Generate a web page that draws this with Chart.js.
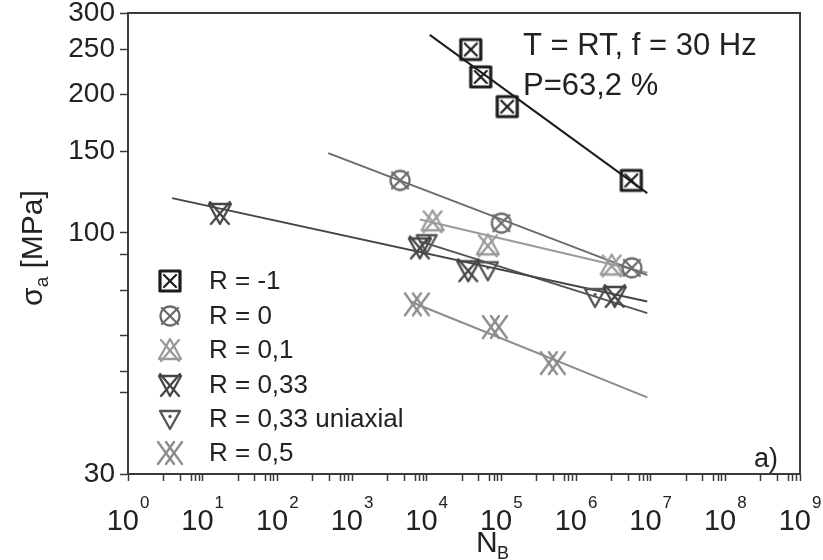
<!DOCTYPE html>
<html>
<head>
<meta charset="utf-8">
<script src="https://cdn.jsdelivr.net/npm/chart.js@4"></script>
<style>
  html, body { margin: 0; padding: 0; background: #fff; }
  #wrap { width: 823px; height: 560px; }
</style>
</head>
<body>
<div id="wrap"><canvas id="chart" width="823" height="560"></canvas></div>
<script>
const ctx = document.getElementById('chart').getContext('2d');

// measured points, N_B (cycles) and sigma_a (MPa)
const rm1N = [3.9e4, 5.3e4, 1.2e5, 5.5e6];
const rm1S = [250, 218, 188, 130];
const rm1FitN = [1.1e4, 9e6];
const rm1FitS = [269, 122];

const r0N = [4.4e3, 1.0e5, 5.6e6];
const r0S = [130, 105, 84];
const r0FitN = [480, 9e6];
const r0FitS = [149, 81];

const r01N = [1.2e4, 6.6e4, 3.0e6];
const r01S = [106, 94, 85];
const r01FitN = [8.1e3, 9e6];
const r01FitS = [107, 82];

const r033N = [17, 8.1e3, 3.6e4, 3.3e6];
const r033S = [110.5, 93, 83, 73];
const r033FitN = [3.9, 9e6];
const r033FitS = [119, 71];

const uniN = [1.0e4, 6.6e4, 1.8e6];
const uniS = [95, 83, 72.6];
const uniFitN = [8e3, 9e6];
const uniFitS = [96, 67];

const r05N = [7.4e3, 8.2e4, 4.9e5];
const r05S = [70, 62.5, 52.2];
const r05FitN = [6e3, 9e6];
const r05FitS = [71, 44];

const legendLabels = ['R = -1', 'R = 0', 'R = 0,1', 'R = 0,33', 'R = 0,33 uniaxial', 'R = 0,5'];
const xMajor = [1, 10, 100, 1e3, 1e4, 1e5, 1e6, 1e7, 1e8, 1e9];
const yLabeled = [30, 100, 150, 200, 250, 300];
const yMinor = [45, 50, 60, 75, 90];

const FONT = '"Liberation Sans", Arial, sans-serif';
const TXT = '#222';

const colors = ['#1c1c1c', '#6c6c6c', '#9a9a9a', '#454545', '#545454', '#8c8c8c'];
const kinds = ['sqx', 'cirx', 'trix', 'dtrix', 'dtridot', 'xx'];

function makeMarker(kind, color) {
  const c = document.createElement('canvas');
  c.width = 28; c.height = 28;
  const g = c.getContext('2d');
  g.strokeStyle = color;
  g.fillStyle = color;
  g.lineWidth = 2.3;
  g.lineCap = 'round';
  g.lineJoin = 'round';
  const line = (a, b, cc, d) => { g.beginPath(); g.moveTo(a, b); g.lineTo(cc, d); g.stroke(); };
  if (kind === 'sqx') {
    g.lineWidth = 3.2;
    g.strokeRect(4, 4, 20, 20);
    g.lineWidth = 2.2;
    line(8, 8, 20, 20); line(20, 8, 8, 20);
  } else if (kind === 'cirx') {
    g.beginPath(); g.arc(14, 14, 9.5, 0, Math.PI * 2); g.stroke();
    line(6, 6, 22, 22); line(22, 6, 6, 22);
  } else if (kind === 'trix') {
    g.beginPath(); g.moveTo(14, 3); g.lineTo(3, 23); g.lineTo(25, 23); g.closePath(); g.stroke();
    line(5, 4, 23, 25); line(23, 4, 5, 25);
  } else if (kind === 'dtrix') {
    g.beginPath(); g.moveTo(3, 5); g.lineTo(25, 5); g.lineTo(14, 25); g.closePath(); g.stroke();
    line(4, 3, 23, 25); line(24, 3, 5, 25);
  } else if (kind === 'dtridot') {
    g.beginPath(); g.moveTo(4, 6); g.lineTo(24, 6); g.lineTo(14, 24); g.closePath(); g.stroke();
    g.beginPath(); g.arc(14, 11.5, 1.7, 0, Math.PI * 2); g.fill();
  } else if (kind === 'xx') {
    line(2, 3, 18, 25); line(10, 3, 26, 25);
    line(18, 3, 2, 25); line(26, 3, 10, 25);
  }
  return c;
}

const markers = kinds.map((k, i) => makeMarker(k, colors[i]));

const pts = (xs, ys) => xs.map((x, i) => ({ x: x, y: ys[i] }));

const series = [
  [rm1N, rm1S, rm1FitN, rm1FitS],
  [r0N, r0S, r0FitN, r0FitS],
  [r01N, r01S, r01FitN, r01FitS],
  [r033N, r033S, r033FitN, r033FitS],
  [uniN, uniS, uniFitN, uniFitS],
  [r05N, r05S, r05FitN, r05FitS]
];

const datasets = [];
series.forEach((s, i) => {
  datasets.push({
    label: legendLabels[i] + ' fit',
    data: pts(s[2], s[3]),
    showLine: true,
    borderColor: colors[i],
    borderWidth: 2,
    pointRadius: 0,
    order: 2
  });
});
series.forEach((s, i) => {
  datasets.push({
    label: legendLabels[i],
    data: pts(s[0], s[1]),
    showLine: false,
    pointStyle: markers[i],
    pointRadius: 10,
    order: 1
  });
});

// legend, decade labels, axis titles and notes
const extras = {
  id: 'extras',
  afterDraw(chart) {
    const g = chart.ctx;
    g.save();
    g.fillStyle = TXT;
    g.textBaseline = 'middle';
    g.textAlign = 'left';

    // legend block
    g.font = '26px ' + FONT;
    const ly = [281, 316, 350, 385, 419, 453];
    legendLabels.forEach((t, i) => {
      g.drawImage(markers[i], 170 - 14, ly[i] - 14);
      g.fillText(t, 209, ly[i] + 1);
    });

    // decade labels 10^n under the x axis
    const xs = chart.scales.x;
    g.textBaseline = 'alphabetic';
    xMajor.forEach(v => {
      const e = String(Math.round(Math.log10(v)));
      const px = xs.getPixelForValue(v);
      g.font = '29px ' + FONT;
      const wb = g.measureText('10').width;
      g.font = '17px ' + FONT;
      const we = g.measureText(e).width;
      const left = px - (wb + 1 + we) / 2;
      g.font = '29px ' + FONT;
      g.fillText('10', left, 530);
      g.font = '17px ' + FONT;
      g.fillText(e, left + wb + 1, 508);
    });

    // test conditions
    g.textBaseline = 'middle';
    g.font = '31px ' + FONT;
    g.fillText('T = RT, f = 30 Hz', 523, 46);
    g.fillText('P=63,2 %', 523, 86);
    g.font = '27px ' + FONT;
    g.fillText('a)', 754, 460);

    // x title N_B
    g.textBaseline = 'alphabetic';
    g.font = '30px ' + FONT;
    g.fillText('N', 476, 552);
    g.font = '18px ' + FONT;
    g.fillText('B', 497, 559);

    // y title sigma_a [MPa]
    g.translate(42, 248);
    g.rotate(-Math.PI / 2);
    g.font = '30px ' + FONT;
    const w1 = g.measureText('σ').width;
    g.font = '19px ' + FONT;
    const w2 = g.measureText('a').width;
    g.font = '30px ' + FONT;
    const w3 = g.measureText(' [MPa]').width;
    let x0 = -(w1 + w2 + w3) / 2;
    g.fillText('σ', x0, 0);
    g.font = '19px ' + FONT;
    g.fillText('a', x0 + w1, 6);
    g.font = '30px ' + FONT;
    g.fillText(' [MPa]', x0 + w1 + w2, 0);
    g.restore();
  }
};

const frame = { color: '#3a3a3a', width: 2 };

const chart = new Chart(ctx, {
  type: 'scatter',
  data: { datasets: datasets },
  plugins: [extras],
  options: {
    responsive: false,
    animation: false,
    layout: { padding: { left: 0, top: 13, right: 23, bottom: 0 } },
    plugins: { legend: { display: false }, tooltip: { enabled: false } },
    scales: {
      x: {
        type: 'logarithmic',
        position: 'bottom',
        min: 1,
        max: 1e9,
        afterBuildTicks(scale) {
          const t = [];
          xMajor.forEach((v, i) => {
            t.push({ value: v, major: true });
            if (i < xMajor.length - 1) {
              [3, 5, 7, 8, 9].forEach(m => t.push({ value: v * m }));
            }
          });
          scale.ticks = t;
        },
        afterFit(scale) {
          scale.height = 86;
          scale.paddingLeft = 0;
          scale.paddingRight = 0;
        },
        ticks: {
          autoSkip: false,
          maxRotation: 0,
          callback() { return ''; }
        },
        grid: { drawOnChartArea: false, tickLength: 7, color: '#3a3a3a', tickWidth: 1.5 },
        border: frame
      },
      y: {
        type: 'logarithmic',
        position: 'left',
        min: 30,
        max: 300,
        afterBuildTicks(scale) {
          scale.ticks = yLabeled.concat(yMinor).sort((a, b) => a - b).map(v => ({ value: v }));
        },
        afterFit(scale) {
          scale.width = 128;
          scale.paddingTop = 0;
          scale.paddingBottom = 0;
        },
        ticks: {
          autoSkip: false,
          padding: 5,
          color: TXT,
          font: { family: FONT, size: 28 },
          callback(v) { return yLabeled.includes(v) ? String(v) : ''; }
        },
        grid: { drawOnChartArea: false, tickLength: 8, color: '#3a3a3a', tickWidth: 1.5 },
        border: frame
      },
      x2: {
        type: 'linear',
        position: 'top',
        ticks: { display: false },
        grid: { display: false },
        border: frame,
        afterFit(scale) { scale.height = 0; }
      },
      y2: {
        type: 'linear',
        position: 'right',
        ticks: { display: false },
        grid: { display: false },
        border: frame,
        afterFit(scale) { scale.width = 0; }
      }
    }
  }
});
</script>
</body>
</html>
